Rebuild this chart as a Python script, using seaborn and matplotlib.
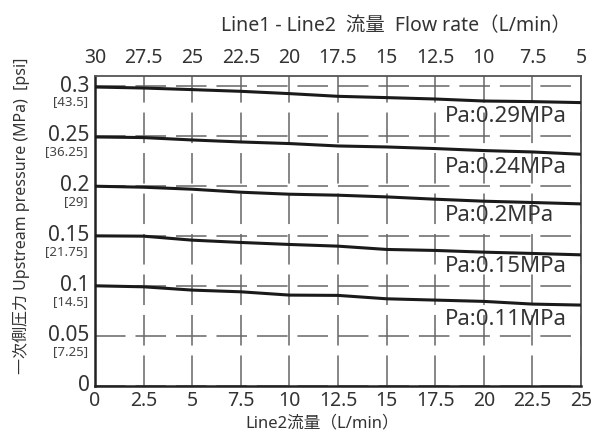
import numpy as np
import pandas as pd
import matplotlib
matplotlib.use("Agg")
import matplotlib.pyplot as plt
import matplotlib.transforms as mtransforms
import seaborn as sns

# flow rate through Line2 (L/min)
flow = [0, 2.5, 5, 7.5, 10, 12.5, 15, 17.5, 20, 22.5, 25]

# upstream pressure (MPa) for each set pressure Pa
p_029 = [0.299, 0.298, 0.2964, 0.2947, 0.2924, 0.2897, 0.2884, 0.287, 0.285, 0.2844, 0.2834]
p_024 = [0.249, 0.2484, 0.246, 0.244, 0.2424, 0.240, 0.239, 0.2374, 0.2354, 0.234, 0.2317]
p_020 = [0.1997, 0.1987, 0.1967, 0.1937, 0.1917, 0.1907, 0.189, 0.1867, 0.1847, 0.1834, 0.182]
p_015 = [0.150, 0.1497, 0.1457, 0.1434, 0.1414, 0.1397, 0.1364, 0.1354, 0.1337, 0.1324, 0.131]
p_011 = [0.100, 0.099, 0.0957, 0.094, 0.0907, 0.0904, 0.087, 0.0857, 0.0844, 0.0817, 0.0807]

series_names = ["Pa:0.29MPa", "Pa:0.24MPa", "Pa:0.2MPa", "Pa:0.15MPa", "Pa:0.11MPa"]
label_y = [0.2697, 0.2187, 0.1707, 0.119, 0.0664]

y_ticks = [0, 0.05, 0.1, 0.15, 0.2, 0.25, 0.3]
y_tick_labels = ["0", "0.05", "0.1", "0.15", "0.2", "0.25", "0.3"]
psi_labels = ["", "[7.25]", "[14.5]", "[21.75]", "[29]", "[36.25]", "[43.5]"]

x_ticks = [0, 2.5, 5, 7.5, 10, 12.5, 15, 17.5, 20, 22.5, 25]
x_tick_labels = ["0", "2.5", "5", "7.5", "10", "12.5", "15", "17.5", "20", "22.5", "25"]
top_tick_labels = ["30", "27.5", "25", "22.5", "20", "17.5", "15", "12.5", "10", "7.5", "5"]

sns.set_style("white")
plt.rcParams["font.family"] = ["Noto Sans", "Noto Sans CJK JP", "DejaVu Sans"]

rows = []
for name, vals in zip(series_names, [p_029, p_024, p_020, p_015, p_011]):
    for x, y in zip(flow, vals):
        rows.append({"flow": x, "pressure": y, "series": name})
df = pd.DataFrame(rows)

txt = "#333333"
fig = plt.figure(figsize=(5.96, 4.37), dpi=100)
ax = fig.add_axes([0.1594, 0.1174, 0.8154, 0.7086])

sns.lineplot(data=df, x="flow", y="pressure", hue="series",
             palette=["#1a1a1a"] * 5, linewidth=2.2, legend=False,
             ax=ax, zorder=3)

ax.set_xlim(0, 25)
ax.set_ylim(0, 0.31)
ax.set_xticks(x_ticks)
ax.set_xticklabels(x_tick_labels, fontsize=14, color=txt)
ax.set_yticks(y_ticks)
ax.set_yticklabels(y_tick_labels, fontsize=15, color=txt)
ax.tick_params(axis="y", direction="in", length=4, width=1.2, color="#222222", pad=4)
ax.tick_params(axis="x", length=0, pad=4)
for lbl in ax.get_yticklabels():
    lbl.set_verticalalignment("center")

ax.grid(True, color="#666666", linewidth=1.1, linestyle=(0, (20, 6.5)))

for side in ["left", "bottom", "right", "top"]:
    ax.spines[side].set_visible(True)
    ax.spines[side].set_color("#555555")
    ax.spines[side].set_linewidth(1.3)
ax.spines["left"].set_color("#222222")
ax.spines["bottom"].set_color("#222222")
ax.spines["left"].set_linewidth(1.8)
ax.spines["bottom"].set_linewidth(1.8)

# psi values under the MPa tick labels
trans = mtransforms.blended_transform_factory(ax.transAxes, ax.transData)
offset = mtransforms.ScaledTranslation(-7 / 100, -16 / 100, fig.dpi_scale_trans)
for yv, s in zip(y_ticks, psi_labels):
    if s:
        ax.text(0, yv, s, transform=trans + offset, ha="right", va="center",
                fontsize=9.5, color="#444444")

# set-pressure labels on the right
for name, yv in zip(series_names, label_y):
    ax.text(18.0, yv, name, ha="left", va="center", fontsize=16,
            color=txt, zorder=4)

ax.set_xlabel("Line2流量（L/min）", fontsize=12, color=txt)
ax.xaxis.set_label_coords(0.467, -0.095)
ax.set_ylabel("一次側圧力 Upstream pressure (MPa)  [psi]", fontsize=11.5, color=txt)
ax.yaxis.set_label_coords(-0.134, 0.55)

top = ax.twiny()
top.set_xlim(ax.get_xlim())
top.set_xticks(x_ticks)
top.set_xticklabels(top_tick_labels, fontsize=14, color=txt)
top.tick_params(axis="x", length=0, pad=6)
for side in top.spines:
    top.spines[side].set_visible(False)
top.set_xlabel("Line1 - Line2  流量  Flow rate（L/min）", fontsize=14, color=txt)
top.xaxis.set_label_coords(0.62, 1.145)

fig.savefig("out.png", dpi=100)
